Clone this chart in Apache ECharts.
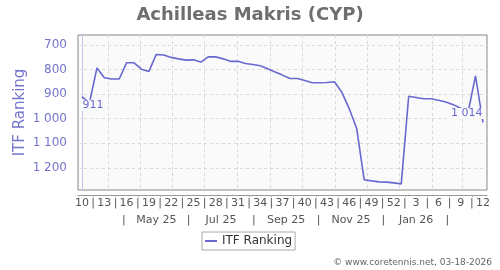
<!DOCTYPE html>
<html><head><meta charset="utf-8">
<script src="https://cdn.jsdelivr.net/npm/echarts@6/dist/echarts.min.js"></script>
<style>html,body{margin:0;padding:0;background:#fff}#c{width:500px;height:270px}</style>
</head><body><div id="c"></div>
<script>
const title = 'Achilleas Makris (CYP)';
const seriesName = 'ITF Ranking';
const credit = '\u00a9 www.coretennis.net, 03-18-2026';
// ISO week of each weekly ranking point: 2025 wk10 .. 2026 wk12
const weeks = [10,11,12,13,14,15,16,17,18,19,20,21,22,23,24,25,26,27,28,29,30,31,32,33,34,35,36,37,38,39,40,41,42,43,44,45,46,47,48,49,50,51,52,1,2,3,4,5,6,7,8,9,10,11,12];
const ranking = [911,935,794,834,839,839,773,773,799,808,739,741,751,757,762,761,770,749,749,757,767,767,776,780,785,797,810,823,837,837,845,854,854,853,850,893,960,1041,1248,1253,1257,1258,1261,1265,909,914,919,919,925,932,943,958,975,826,1014];
const labeledPoints = [0, 54];
const weekTickStep = 3;
const yTicks = [700, 800, 900, 1000, 1100, 1200];
const yMin = 660, yMax = 1290;
// month boundaries (year, month index) and bi-monthly labels
const monthStarts = [[2025,3],[2025,4],[2025,5],[2025,6],[2025,7],[2025,8],[2025,9],[2025,10],[2025,11],[2026,0],[2026,1],[2026,2]];
const monthLabels = [[2025,4,'May 25'],[2025,6,'Jul 25'],[2025,8,'Sep 25'],[2025,10,'Nov 25'],[2026,0,'Jan 26']];
const monthSeparators = [[2025,3],[2025,5],[2025,7],[2025,9],[2025,11],[2026,1]];
const firstPointDate = Date.UTC(2025,2,7,12); // mid-week date of first point

const DAY = 86400000;
function dateToIdx(t){ return (t - firstPointDate) / (7*DAY); }
function monthStartIdx(y,m){ return dateToIdx(Date.UTC(y,m,1)); }
function monthMidIdx(y,m){ return (monthStartIdx(y,m) + monthStartIdx(y,m+1)) / 2; }
function fmt(v){ return String(v).replace(/\B(?=(\d{3})+(?!\d))/g,' '); }

const weekLabelVals = [], weekSepVals = [];
for (let i = 0; i < weeks.length; i += weekTickStep) {
  weekLabelVals.push(i);
  if (i + weekTickStep < weeks.length) weekSepVals.push(i + weekTickStep/2);
}
const weekAxisVals = weekLabelVals.concat(weekSepVals).sort((a,b)=>a-b);
const gridVals = monthStarts.map(([y,m]) => monthStartIdx(y,m));
const monthMap = {};
const monthAxisVals = [];
monthLabels.forEach(([y,m,t]) => { const v = monthMidIdx(y,m); monthMap[v.toFixed(4)] = t; monthAxisVals.push(v); });
monthSeparators.forEach(([y,m]) => { const v = monthMidIdx(y,m); monthMap[v.toFixed(4)] = '|'; monthAxisVals.push(v); });
monthAxisVals.sort((a,b)=>a-b);

const xMin = -0.55, xMax = weeks.length - 1 + 0.55;
const lineColor = '#6868cf';
const axisText = '#7474cc';

const data = ranking.map((v, i) => {
  const d = [i, v];
  if (labeledPoints.indexOf(i) >= 0) {
    const last = i === weeks.length - 1;
    return {
      value: d, symbol: 'circle', symbolSize: 1,
      label: {
        show: true, formatter: p => fmt(p.value[1]),
        position: last ? [1, -8] : [0, 9],
        align: last ? 'right' : 'left', verticalAlign: 'middle',
        color: lineColor, fontSize: 11, backgroundColor: '#fafafa', padding: [0, 1]
      }
    };
  }
  return d;
});

const chart = echarts.init(document.getElementById('c'), null, {renderer: 'canvas'});
chart.setOption({
  animation: false,
  textStyle: {fontFamily: 'DejaVu Sans'},
  title: {text: title, left: 'center', top: 1,
    textStyle: {fontSize: 18, fontWeight: 'bold', color: '#6e6e6e', fontFamily: 'DejaVu Sans'}},
  grid: {left: 78, right: 13, top: 35, bottom: 80, show: true,
    backgroundColor: '#fafafa', borderColor: '#888', borderWidth: 1},
  legend: {data: [seriesName], left: 202, top: 232, padding: [3, 3, 3, 3],
    borderColor: '#aaa', borderWidth: 1, borderRadius: 0,
    icon: 'rect', itemWidth: 12, itemHeight: 2, itemGap: 4,
    textStyle: {fontSize: 12, color: '#333', fontFamily: 'DejaVu Sans'}},
  graphic: [{type: 'text', right: 8, bottom: 3,
    style: {text: credit, fontSize: 9, fill: '#666', fontFamily: 'DejaVu Sans'}}],
  xAxis: [
    {type: 'value', min: xMin, max: xMax, position: 'bottom', offset: 5,
      axisLine: {show: true, onZero: false, lineStyle: {color: '#999'}},
      axisTick: {show: true, length: 2, customValues: weekSepVals, lineStyle: {color: '#aaa'}},
      splitLine: {show: false},
      axisLabel: {customValues: weekAxisVals, margin: 3, fontSize: 11, color: '#555',
        formatter: v => (Math.abs(v - Math.round(v)) < 1e-6 ? String(weeks[Math.round(v)]) : '|')}},
    {type: 'value', min: xMin, max: xMax, position: 'bottom', offset: 22,
      axisLine: {show: false, onZero: false},
      axisTick: {show: false, customValues: gridVals},
      splitLine: {show: true, lineStyle: {color: '#d8d8d8', type: [3, 3], width: 1}},
      axisLabel: {customValues: monthAxisVals, margin: 3, fontSize: 11, color: '#555',
        formatter: v => monthMap[v.toFixed(4)] || ''}}
  ],
  yAxis: {type: 'value', inverse: true, min: yMin, max: yMax, offset: 5,
    name: seriesName, nameLocation: 'middle', nameGap: 45, nameMoveOverlap: false,
    nameTextStyle: {fontSize: 15, color: axisText, fontFamily: 'DejaVu Sans'},
    axisLine: {show: true, lineStyle: {color: '#c4c4ec'}},
    axisTick: {show: false, customValues: yTicks},
    splitLine: {show: true, lineStyle: {color: '#d8d8d8', type: [3, 3], width: 1}},
    axisLabel: {customValues: yTicks, margin: 6, fontSize: 12, color: axisText, formatter: v => fmt(v)}},
  series: [{type: 'line', name: seriesName, data: data, symbol: 'none', showSymbol: true,
    xAxisIndex: 0, yAxisIndex: 0,
    lineStyle: {color: lineColor, width: 1.6}, itemStyle: {color: lineColor},
    emphasis: {disabled: true}}]
});
</script></body></html>
